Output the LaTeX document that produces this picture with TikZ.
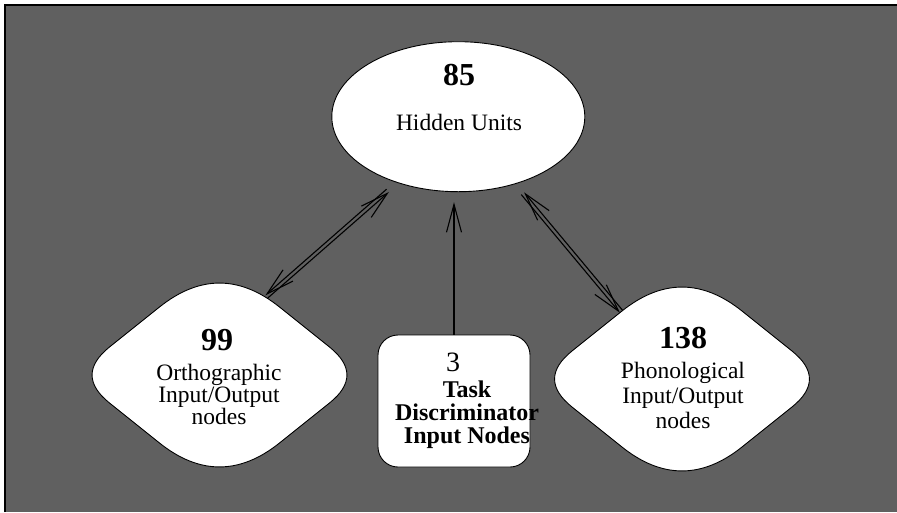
\documentclass[tikz,border=0pt]{standalone}
\usepackage{fontspec}
\setmainfont{Liberation Serif}
\usetikzlibrary{shapes.geometric,arrows.meta,calc}

\definecolor{panelgray}{RGB}{96,96,96}

% cut lengths of the rounded diamond corners (top/bottom and sides)
% and the matching control distances (one third of each cut)
\newcommand\diamT{77pt}
\newcommand\diamTc{25.7pt}
\newcommand\diamS{45pt}
\newcommand\diamSc{15pt}
% white rounded diamond drawn over the anchors of an invisible diamond node
\newcommand\rounddiamond[1]{%
  \filldraw[shapeline]
    ($(#1.north)!\diamT!(#1.east)$) -- ($(#1.east)!\diamS!(#1.north)$)
    .. controls ($(#1.east)!\diamSc!(#1.north)$) and ($(#1.east)!\diamSc!(#1.south)$)
    .. ($(#1.east)!\diamS!(#1.south)$)
    -- ($(#1.south)!\diamT!(#1.east)$)
    .. controls ($(#1.south)!\diamTc!(#1.east)$) and ($(#1.south)!\diamTc!(#1.west)$)
    .. ($(#1.south)!\diamT!(#1.west)$)
    -- ($(#1.west)!\diamS!(#1.south)$)
    .. controls ($(#1.west)!\diamSc!(#1.south)$) and ($(#1.west)!\diamSc!(#1.north)$)
    .. ($(#1.west)!\diamS!(#1.north)$)
    -- ($(#1.north)!\diamT!(#1.west)$)
    .. controls ($(#1.north)!\diamTc!(#1.west)$) and ($(#1.north)!\diamTc!(#1.east)$)
    .. ($(#1.north)!\diamT!(#1.east)$) -- cycle;}

\tikzset{
  shapeline/.style={fill=white, draw=black, line width=0.9pt},
  diamondframe/.style={diamond, minimum width=290pt, minimum height=232pt,
    inner sep=0pt, outer sep=0pt, draw=none},
  num/.style={font=\fontsize{32pt}{32pt}\selectfont\bfseries, inner sep=0pt},
  lab/.style={font=\fontsize{23.5pt}{22pt}\selectfont, inner sep=0pt, align=center},
  link/.style={line width=1.1pt, -{Straight Barb[length=28pt,width=15pt]}},
}

\begin{document}
\begin{tikzpicture}[x=1pt,y=-1pt]
  \useasboundingbox (0,0) rectangle (897,512);
  % panel
  \fill[panelgray] (5,5) rectangle (897,512);
  \draw[black, line width=2pt] (5,512) -- (5,5) -- (897,5);

  % hidden layer
  \node[ellipse, shapeline, minimum width=253pt, minimum height=150pt, inner sep=0pt]
    (hid) at (458.3,116.7) {};
  \node[num, anchor=base] (hidnum) at (459,85) {85};
  \node[lab, anchor=base] (hidtxt) at (459,130) {Hidden Units};

  % orthographic units
  \node[diamondframe] (orth) at (219.5,375) {};
  \rounddiamond{orth}
  \node[num, anchor=base] (orthnum) at (217,350) {99};
  \node[lab] (orthtxt) at (219,394) {Orthographic\\Input/Output\\nodes};

  % phonological units
  \node[diamondframe] (phon) at (682,379) {};
  \rounddiamond{phon}
  \node[num, anchor=base] (phonnum) at (683,348) {138};
  \node[lab, font=\fontsize{23.5pt}{25pt}\selectfont] (phontxt) at (683,395.5)
    {Phonological\\Input/Output\\nodes};

  % task units
  \node[rectangle, rounded corners=20pt, shapeline, minimum width=152pt,
    minimum height=132pt, inner sep=0pt] (task) at (454,401) {};
  \node[inner sep=0pt, anchor=base, font=\fontsize{28pt}{28pt}\selectfont]
    (tasknum) at (453,371) {3};
  \node[inner sep=0pt, align=center, font=\fontsize{24pt}{23pt}\selectfont\bfseries]
    (tasktxt) at (467,415) {Task\\Discriminator\\Input Nodes};

  % connections
  \draw[link, shorten >=12pt, transform canvas={xshift=1.2pt,yshift=-1.35pt}]
    (orth.59) -- (hid.227);
  \draw[link, shorten <=12pt, transform canvas={xshift=-1.2pt,yshift=1.35pt}]
    (hid.227) -- (orth.59);
  \draw[link, shorten >=10pt] (task.north) -- (task.north |- hid.south);
  \draw[link, shorten >=12pt, transform canvas={xshift=1.4pt,yshift=1.15pt}]
    (phon.132) -- (hid.310);
  \draw[link, shorten <=12pt, transform canvas={xshift=-1.4pt,yshift=-1.15pt}]
    (hid.310) -- (phon.132);
\end{tikzpicture}
\end{document}
